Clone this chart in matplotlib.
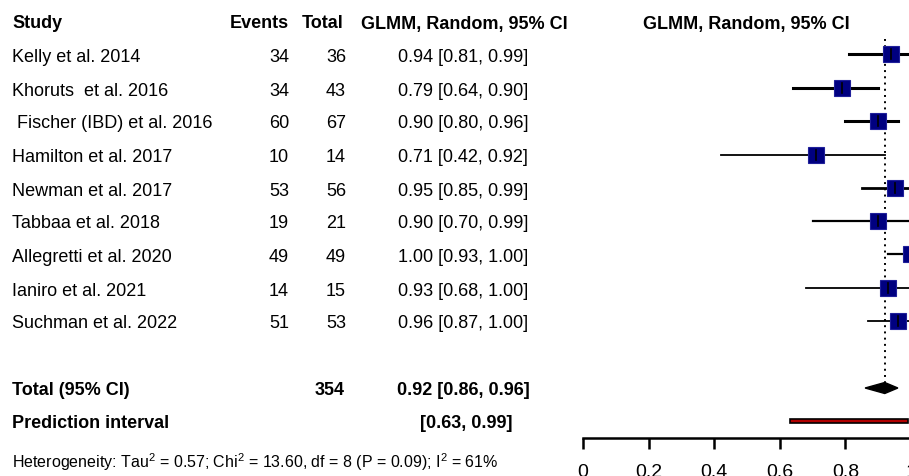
import matplotlib.pyplot as plt
from matplotlib.patches import Polygon, Rectangle

plt.rcParams['font.family'] = ['Liberation Sans', 'DejaVu Sans']
plt.rcParams['mathtext.default'] = 'regular'

studies = ['Kelly et al. 2014', 'Khoruts  et al. 2016', ' Fischer (IBD) et al. 2016',
           'Hamilton et al. 2017', 'Newman et al. 2017', 'Tabbaa et al. 2018',
           'Allegretti et al. 2020', 'Ianiro et al. 2021', 'Suchman et al. 2022']
events = [34, 34, 60, 10, 53, 19, 49, 14, 51]
totals = [36, 43, 67, 14, 56, 21, 49, 15, 53]
est = [0.94, 0.79, 0.90, 0.71, 0.95, 0.90, 1.00, 0.93, 0.96]
lower = [0.81, 0.64, 0.80, 0.42, 0.85, 0.70, 0.93, 0.68, 0.87]
upper = [0.99, 0.90, 0.96, 0.92, 0.99, 0.99, 1.00, 1.00, 1.00]
pooled = (0.92, 0.86, 0.96)
pred = (0.63, 0.99)
n_total = 354
xticks = [0, 0.2, 0.4, 0.6, 0.8, 1]

W, H = 909, 477
fig = plt.figure(figsize=(W / 100, H / 100), dpi=100)

def ftext(x, y, s, **kw):
    fig.text(x / W, 1 - y / H, s, va='center_baseline', **kw)

# row layout (pixels from top)
row_y = [55, 89, 122, 156, 189, 222, 255, 289, 322]
y_head, y_tot, y_pred, y_het = 22, 389, 422, 460
fs = 13

ftext(12, y_head, 'Study', fontsize=fs, fontweight='bold')
ftext(289, y_head, 'Events', fontsize=fs, fontweight='bold', ha='right')
ftext(344, y_head, 'Total', fontsize=fs, fontweight='bold', ha='right')
ftext(568, y_head, 'GLMM, Random, 95% CI', fontsize=fs, fontweight='bold', ha='right')
ftext(746, y_head, 'GLMM, Random, 95% CI', fontsize=fs, fontweight='bold', ha='center')

for i, y in enumerate(row_y):
    ftext(12, y, studies[i], fontsize=fs)
    ftext(289, y, str(events[i]), fontsize=fs, ha='right')
    ftext(346, y, str(totals[i]), fontsize=fs, ha='right')
    ftext(528, y, f'{est[i]:.2f} [{lower[i]:.2f}, {upper[i]:.2f}]', fontsize=fs, ha='right')

ftext(12, y_tot, 'Total (95% CI)', fontsize=fs, fontweight='bold')
ftext(345, y_tot, str(n_total), fontsize=fs, fontweight='bold', ha='right')
ftext(530, y_tot, f'{pooled[0]:.2f} [{pooled[1]:.2f}, {pooled[2]:.2f}]',
      fontsize=fs, fontweight='bold', ha='right')
ftext(12, y_pred, 'Prediction interval', fontsize=fs, fontweight='bold')
ftext(512, y_pred, f'[{pred[0]:.2f}, {pred[1]:.2f}]', fontsize=fs, fontweight='bold', ha='right')
ftext(12, y_het, 'Heterogeneity: Tau$^2$ = 0.57; Chi$^2$ = 13.60, df = 8 (P = 0.09); I$^2$ = 61%',
      fontsize=11.5)

# forest panel: y in pixels from top, x in proportion units
x0, x1, ybot = 583, 911, 439
ax = fig.add_axes([x0 / W, (H - ybot) / H, (x1 - x0) / W, ybot / H])
ax.set_xlim(0, 1)
ax.set_ylim(ybot, 0)
for s in ['top', 'right', 'left']:
    ax.spines[s].set_visible(False)
ax.spines['bottom'].set_linewidth(1.8)
ax.set_yticks([])
ax.set_xticks(xticks)
ax.set_xticklabels(['0', '0.2', '0.4', '0.6', '0.8', '1'])
ax.tick_params(axis='x', direction='out', length=8, width=1.8, labelsize=14, pad=10)
ax.patch.set_alpha(0)

lws = [2.2, 2.2, 2.2, 1.3, 2.0, 1.6, 1.6, 1.3, 1.3]
for i, y in enumerate(row_y):
    ax.plot([lower[i], upper[i]], [y, y], color='black', lw=lws[i], clip_on=False, zorder=2)
    ax.plot(est[i], y, marker='s', ms=12, color='#000080', mec='#20209a', mew=0.8,
            clip_on=False, zorder=3)
    ax.plot([est[i], est[i]], [y - 5, y + 5], color='black', lw=1.2, clip_on=False, zorder=4)

ax.plot([pooled[0], pooled[0]], [40, 384], color='black', lw=1.4, ls=(0, (1, 2.2)), zorder=1)

ax.add_patch(Polygon([(pooled[1], y_tot), (pooled[0], y_tot - 5.5),
                      (pooled[2], y_tot), (pooled[0], y_tot + 5.5)],
                     closed=True, facecolor='black', edgecolor='black', zorder=3))
ax.add_patch(Rectangle((pred[0], y_pred - 2), pred[1] - pred[0], 4,
                       facecolor='#B00000', edgecolor='black', lw=1.2, zorder=3))

fig.savefig('out.png', dpi=100)
